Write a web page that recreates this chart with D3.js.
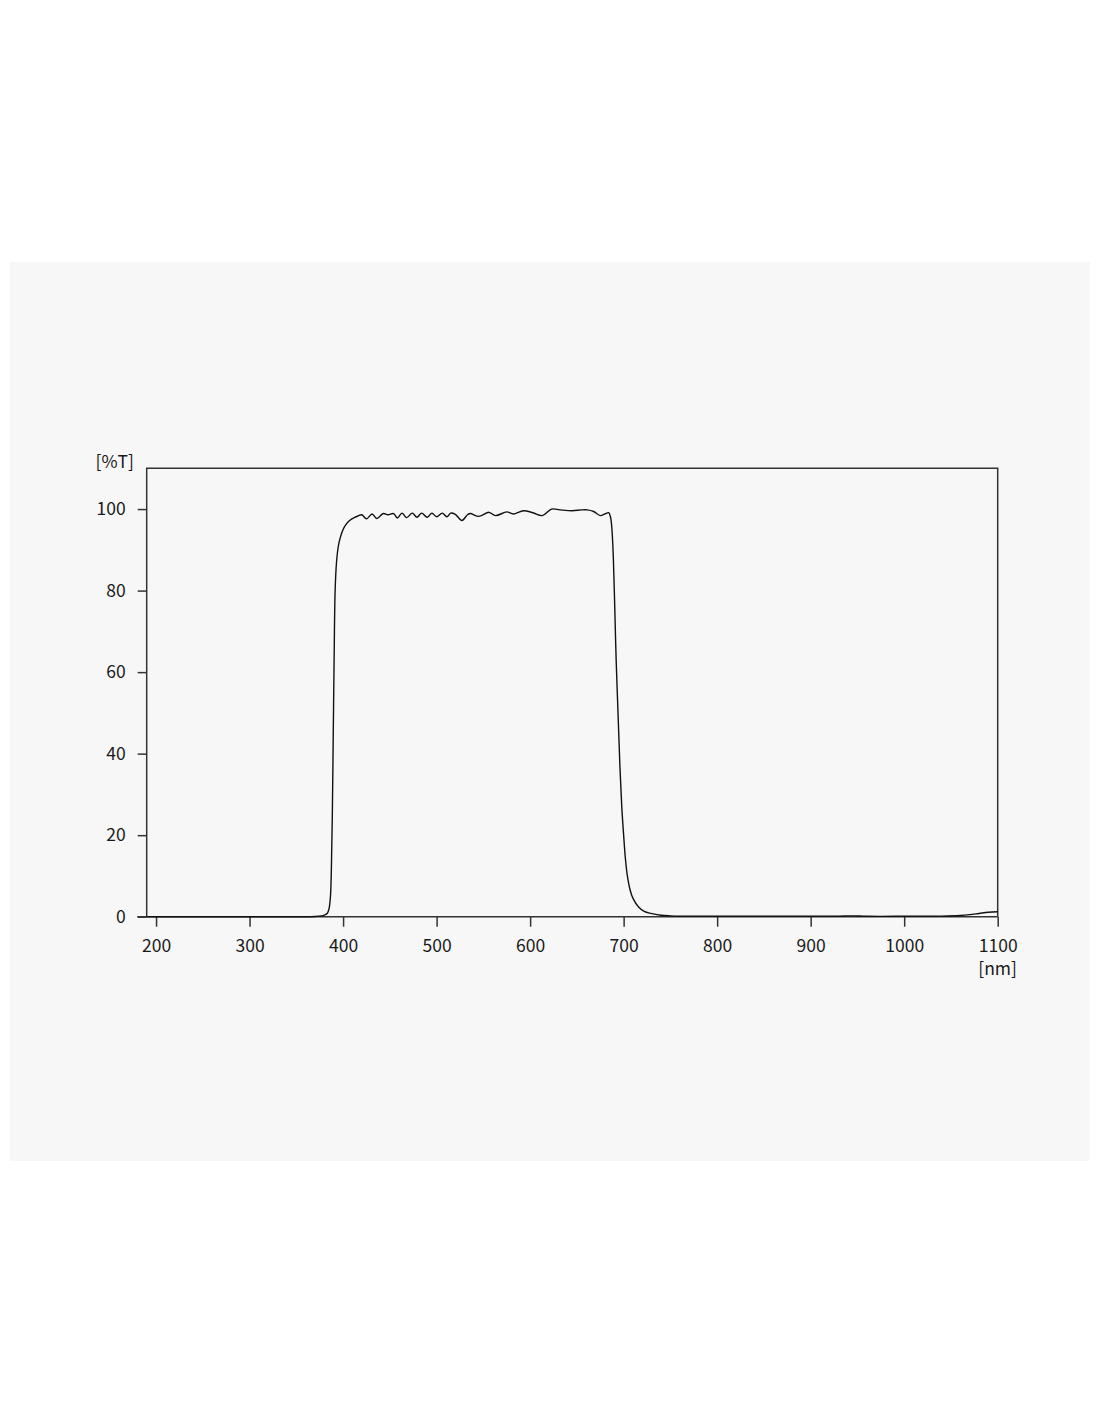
<!DOCTYPE html>
<html>
<head>
<meta charset="utf-8">
<script src="https://cdn.jsdelivr.net/npm/d3@7"></script>
<style>
  html, body { margin: 0; padding: 0; background: #ffffff; }
  svg { display: block; }
  text { font-family: "Noto Sans CJK JP", "Noto Sans", sans-serif; fill: #1a1a1a; }
</style>
</head>
<body>
<svg id="chart" width="1100" height="1422"></svg>
<script>
// wavelength [nm]
const wavelength = [190, 250, 300, 350, 370, 377, 380, 383, 385, 386.5, 387.5, 388.5, 389.5, 390.5, 391.5, 393, 395, 397, 400, 403, 407, 412, 416,
  420, 425, 431, 436, 443, 448, 454, 458, 463, 468, 474, 479, 484, 490, 495, 500, 506, 511, 515, 520, 527, 533, 536, 545, 556, 563, 575, 582, 593, 603, 613, 623, 632, 645, 655, 661, 668, 675, 680, 684,
  686, 687.5, 689, 690.5, 692, 694, 696, 698, 700, 702, 704, 707, 710, 716, 722, 729, 740, 750, 760, 800, 850, 900, 930, 945, 960, 1000, 1040, 1060, 1070, 1080, 1090, 1100];
// transmittance [%T]
const transmittance = [0, 0, 0, 0, 0.05, 0.2, 0.4, 0.8, 2, 5, 12, 25, 45, 65, 80, 87, 91, 93, 95, 96.2, 97.2, 97.9, 98.3,
  98.6, 97.6, 98.8, 97.7, 98.9, 98.6, 98.9, 97.8, 99.0, 97.9, 99.0, 98.0, 99.0, 98.0, 99.0, 98.1, 99.0, 98.1, 99.0, 98.7, 97.2, 98.6, 98.9, 98.2, 99.2, 98.4, 99.3, 98.8, 99.6, 99.1, 98.4, 100.0, 99.8, 99.6, 99.8, 99.8, 99.4, 98.4, 98.8, 99.1,
  98.0, 95, 88, 76, 63, 50, 37, 27, 20, 14, 10, 6.5, 4.5, 2.4, 1.3, 0.8, 0.35, 0.2, 0.12, 0.1, 0.1, 0.1, 0.12, 0.2, 0.1, 0.1, 0.15, 0.3, 0.5, 0.8, 1.1, 1.2];

const xTicks = [200, 300, 400, 500, 600, 700, 800, 900, 1000, 1100];
const yTicks = [0, 20, 40, 60, 80, 100];
const xDomain = [190, 1100];
const yDomain = [0, 110];
const xUnit = "[nm]";
const yUnit = "[%T]";

(function () {
const svg = d3.select("#chart");
const fontFamily = "Noto Sans CJK JP, Noto Sans, sans-serif";
const fontSize = 17.5;

// panel background
svg.append("rect").attr("x", 10).attr("y", 262).attr("width", 1080).attr("height", 899).attr("fill", "#f7f7f7");

const pLeft = 146.7, pRight = 997.7, pTop = 468.3, pBottom = 916.7;
const x = d3.scaleLinear().domain(xDomain).range([pLeft, pRight]);
const y = d3.scaleLinear().domain(yDomain).range([pBottom, pTop]);

const axisColor = "#333";

// frame: left, top, right
svg.append("path")
  .attr("d", `M${pLeft},${pBottom}V${pTop}H${pRight}V${pBottom}`)
  .attr("fill", "none").attr("stroke", axisColor).attr("stroke-width", 1.5);

// x axis
const gx = svg.append("g").attr("transform", `translate(0,${pBottom})`)
  .call(d3.axisBottom(x).tickValues(xTicks).tickFormat(d3.format("d")).tickSize(10).tickSizeOuter(0).tickPadding(13));
gx.select(".domain").remove();
gx.append("line").attr("x1", pLeft - 9.4).attr("x2", pRight).attr("y1", 0).attr("y2", 0)
  .attr("stroke", axisColor).attr("stroke-width", 1.5);
gx.selectAll(".tick line").attr("stroke", axisColor).attr("stroke-width", 1.5);
gx.selectAll(".tick text").attr("font-size", fontSize).attr("fill", "#1a1a1a")
  .attr("font-family", fontFamily);

// y axis
const gy = svg.append("g").attr("transform", `translate(${pLeft},0)`)
  .call(d3.axisLeft(y).tickValues(yTicks).tickFormat(d3.format("d")).tickSize(9).tickSizeOuter(0).tickPadding(12));
gy.select(".domain").remove();
gy.selectAll(".tick line").attr("stroke", axisColor).attr("stroke-width", 1.5);
gy.selectAll(".tick text").attr("font-size", fontSize).attr("fill", "#1a1a1a")
  .attr("font-family", fontFamily);

// units
svg.append("text").attr("x", 134).attr("y", 468).attr("text-anchor", "end")
  .attr("font-size", fontSize).attr("font-family", fontFamily).text(yUnit);
svg.append("text").attr("x", 1017).attr("y", 975).attr("text-anchor", "end")
  .attr("font-size", fontSize).attr("font-family", fontFamily).text(xUnit);

// curve
const data = wavelength.map((w, i) => ({ w, t: transmittance[i] }));
svg.append("path")
  .datum(data)
  .attr("d", d3.line().x(d => x(d.w)).y(d => y(d.t)).curve(d3.curveCatmullRom.alpha(0.5)))
  .attr("fill", "none").attr("stroke", "#111").attr("stroke-width", 1.4)
  .attr("stroke-linejoin", "round");
})();
</script>
</body>
</html>
